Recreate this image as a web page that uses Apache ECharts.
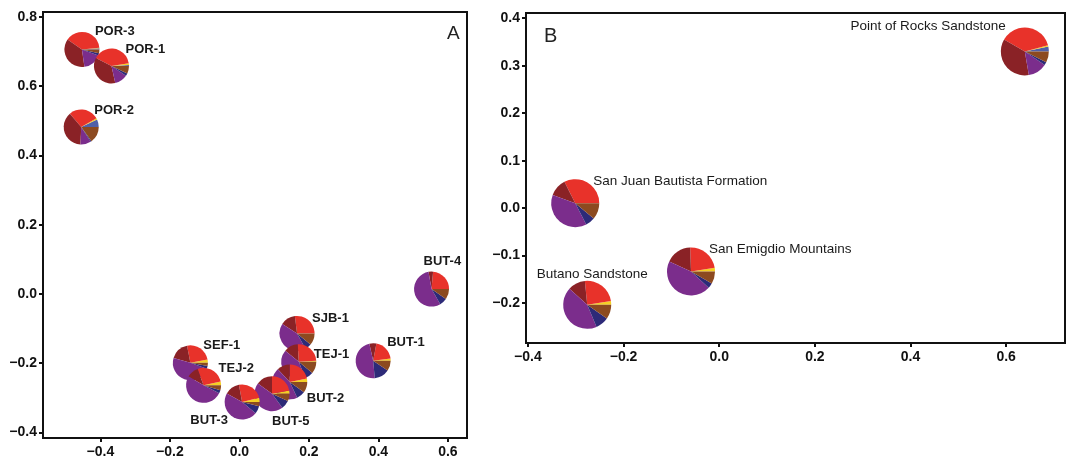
<!DOCTYPE html>
<html><head><meta charset="utf-8">
<script src="https://cdn.jsdelivr.net/npm/echarts@6/dist/echarts.min.js"></script>
<style>html,body{margin:0;padding:0;background:#fff}#c{width:1067px;height:464px}</style>
</head><body><div id="c"></div>
<script>
// ---------- Panel A data ----------
const samplesA = ['POR-3','POR-1','POR-2','BUT-4','BUT-1','SEF-1','TEJ-2','SJB-1','TEJ-1','BUT-2','BUT-5','BUT-3'];
const xA = [-0.453,-0.368,-0.455,0.553,0.385,-0.141,-0.103,0.166,0.171,0.145,0.094,0.008];
const yA = [0.706,0.658,0.482,0.014,-0.193,-0.199,-0.264,-0.114,-0.196,-0.254,-0.288,-0.312];
// composition fractions (slice order counter-clockwise from 3 o'clock)
const blueA   = [0.010,0.010,0.070,0,0,0,0,0,0,0,0,0];
const yellowA = [0.005,0.015,0.012,0,0.020,0.030,0.035,0,0.010,0.030,0.030,0.040];
const redA    = [0.385,0.400,0.280,0.236,0.200,0.250,0.270,0.270,0.250,0.220,0.220,0.240];
const maroonA = [0.367,0.360,0.380,0.042,0.065,0.175,0.110,0.140,0.130,0.120,0.150,0.140];
const purpleA = [0.170,0.120,0.097,0.555,0.480,0.490,0.510,0.420,0.420,0.450,0.450,0.470];
const navyA   = [0.020,0.025,0.010,0.070,0.140,0.025,0.030,0.060,0.080,0.080,0.080,0.070];
const brownA  = [0.035,0.070,0.150,0.097,0.095,0.030,0.045,0.110,0.110,0.100,0.070,0.040];
const xTicksA = [-0.4,-0.2,0.0,0.2,0.4,0.6];
const yTicksA = [-0.4,-0.2,0.0,0.2,0.4,0.6,0.8];

// ---------- Panel B data ----------
const samplesB = ['Point of Rocks Sandstone','San Juan Bautista Formation','San Emigdio Mountains','Butano Sandstone'];
const xB = [0.639,-0.301,-0.059,-0.276];
const yB = [0.330,0.0105,-0.1335,-0.2036];
const blueB   = [0.033,0,0,0];
const yellowB = [0.008,0,0.025,0.025];
const redB    = [0.375,0.324,0.230,0.240];
const maroonB = [0.360,0.120,0.175,0.117];
const purpleB = [0.128,0.380,0.450,0.430];
const navyB   = [0.020,0.064,0.035,0.089];
const brownB  = [0.075,0.110,0.083,0.097];
const xTicksB = [-0.4,-0.2,0.0,0.2,0.4,0.6];
const yTicksB = [-0.2,-0.1,0.0,0.1,0.2,0.3,0.4];

// ---------- styling / layout ----------
const sliceColors = ['#5060a8','#f4d024','#e8322a','#8a2226','#7b2d8c','#2d2a78','#8c4a20'];
const FONT = '"Liberation Sans", Arial, Helvetica, sans-serif';
// label offsets in pixels from pie centre [dx, dy, align]
const labelOffA = [[13,-18,'left'],[14,-17,'left'],[13,-17,'left'],[-8,-28,'left'],[14,-18,'left'],
  [13,-17,'left'],[15,-17,'left'],[15,-15,'left'],[15,-7,'left'],[17,17,'left'],[0,28,'left'],[-33,18,'center']];
const labelOffB = [[-19,-25,'right'],[18,-22,'left'],[18,-22,'left'],[5,-31,'center']];

function fmt(v){ return (v < -1e-9 ? '\u2212' : '') + Math.abs(v).toFixed(1); }

function makeRender(samples, comps, radius, offs, font){
  return function(params, api){
    const i = params.dataIndex;
    const c = api.coord([api.value(0), api.value(1)]);
    const vals = comps.map(a => a[i]);
    const tot = vals.reduce((s,v)=>s+v,0);
    let acc = 0;
    const children = [];
    vals.forEach((v,k)=>{
      if (v <= 0) return;
      const a0 = acc/tot*2*Math.PI; acc += v; const a1 = acc/tot*2*Math.PI;
      children.push({type:'sector', shape:{cx:c[0], cy:c[1], r:radius, r0:0, startAngle:-a1, endAngle:-a0, clockwise:true},
        style:{fill:sliceColors[k]}});
    });
    const o = offs[i];
    children.push({type:'text', x:c[0]+o[0], y:c[1]+o[1],
      style:{text:samples[i], fill:'#1a1a1a', font:font, align:o[2], verticalAlign:'middle'}});
    return {type:'group', children};
  };
}

function axis(grid, min, max, ticks, margin){
  return {gridIndex:grid, type:'value', min:min, max:max, scale:true,
    axisLine:{show:true, onZero:false, lineStyle:{color:'#111', width:2}},
    axisTick:{show:true, length:4, customValues:ticks, lineStyle:{color:'#111', width:2}},
    axisLabel:{show:true, customValues:ticks, formatter:fmt, color:'#111', fontSize:14, fontWeight:'bold', fontFamily:FONT, margin:margin},
    splitLine:{show:false}};
}

const chart = echarts.init(document.getElementById('c'));
chart.setOption({
  animation:false,
  backgroundColor:'#fff',
  title:[
    {text:'A', left:442, top:19, textStyle:{fontSize:19, fontWeight:'normal', color:'#222', fontFamily:FONT}},
    {text:'B', left:539, top:21, textStyle:{fontSize:20, fontWeight:'normal', color:'#222', fontFamily:FONT}}
  ],
  grid:[
    {left:43, top:12, width:424, height:426, show:true, borderColor:'#111', borderWidth:2, containLabel:false},
    {left:526, top:13, right:2, height:330, show:true, borderColor:'#111', borderWidth:2, containLabel:false}
  ],
  xAxis:[axis(0,-0.565,0.655,xTicksA,7), axis(1,-0.404,0.723,xTicksB,7)],
  yAxis:[axis(0,-0.416,0.814,yTicksA,6), axis(1,-0.284,0.411,yTicksB,6)],
  series:[
    {type:'custom', xAxisIndex:0, yAxisIndex:0, clip:false, encode:{x:0,y:1},
     data:samplesA.map((s,i)=>[xA[i], yA[i]]),
     renderItem:makeRender(samplesA,[blueA,yellowA,redA,maroonA,purpleA,navyA,brownA],17.5,labelOffA,'bold 13px '+FONT)},
    {type:'custom', xAxisIndex:1, yAxisIndex:1, clip:false, encode:{x:0,y:1},
     data:samplesB.map((s,i)=>[xB[i], yB[i]]),
     renderItem:makeRender(samplesB,[blueB,yellowB,redB,maroonB,purpleB,navyB,brownB],24,labelOffB,'13.5px '+FONT)}
  ]
});
</script></body></html>
